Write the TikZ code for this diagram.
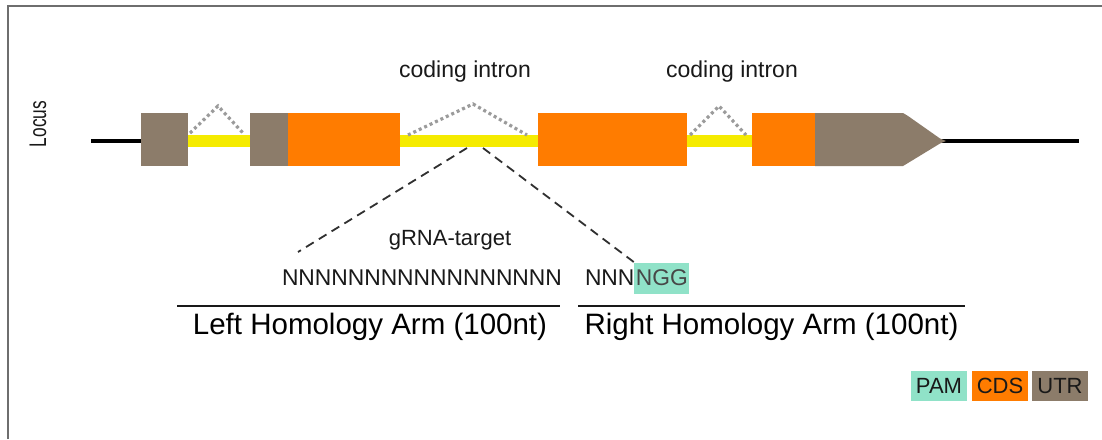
\documentclass[tikz,border=0pt]{standalone}
\usepackage{fontspec}
\setmainfont{Liberation Sans}
\definecolor{utr}{RGB}{140,124,106}
\definecolor{cds}{RGB}{255,124,0}
\definecolor{intr}{RGB}{245,235,0}
\definecolor{pam}{RGB}{144,226,200}
\definecolor{splice}{RGB}{155,155,155}
\definecolor{txt}{RGB}{25,25,25}
\definecolor{frame}{RGB}{110,110,110}
\begin{document}
\begin{tikzpicture}[x=1pt,y=-1pt,
  exon/.style={inner sep=0pt,outer sep=0pt,minimum height=53pt,anchor=west},
  intronbar/.style={fill=intr,inner sep=0pt,outer sep=0pt,minimum height=12pt,anchor=west},
  splicing/.style={draw=splice,line width=3.2pt,dash pattern=on 3pt off 3pt},
  guide/.style={draw=txt!90,line width=1.8pt,dash pattern=on 9pt off 6pt},
  label/.style={inner sep=0pt,outer sep=0pt,text=txt},
  legend/.style={inner sep=0pt,minimum width=56pt,minimum height=30pt,text=txt,font=\fontsize{22}{24}\selectfont},
  armline/.style={draw=txt,line width=1.6pt}]
\useasboundingbox (0,0) rectangle (1102,439);
\fill[white] (0,0) rectangle (1102,439);
% frame
\draw[frame,line width=2pt] (8,439) -- (8,6) -- (1102,6);
% locus label
\node[label,rotate=90] (locus) at (38,124) {\scalebox{0.72}[1]{\fontsize{24}{26}\selectfont Locus}};
% backbone
\coordinate (bbL) at (91,141);
\coordinate (bbR) at (1079,141);
\draw[line width=4pt,black] (bbL) -- (bbR);
% introns
\node[intronbar,minimum width=65pt] (i1) at (187,141) {};
\node[intronbar,minimum width=138pt] (i2) at (400,141) {};
\node[intronbar,minimum width=65pt] (i3) at (687,141) {};
% exons
\node[exon,fill=utr,minimum width=47pt] (u1) at (141,139.5) {};
\node[exon,fill=utr,minimum width=38pt] (u2) at (250,139.5) {};
\node[exon,fill=cds,minimum width=112pt] (c2) at (288,139.5) {};
\node[exon,fill=cds,minimum width=149pt] (c3) at (538,139.5) {};
\node[exon,fill=cds,minimum width=63pt] (c4) at (752,139.5) {};
\fill[utr] (815,113) -- (903,113) -- (908,116) -- (940,138.5) -- (946,141) -- (940,143.5) -- (908,163) -- (903,166) -- (815,166) -- cycle;
% splice lines
\coordinate (s1a) at (190,133); \coordinate (s1b) at (218,106); \coordinate (s1c) at (243,133);
\coordinate (s2a) at (408,135); \coordinate (s2b) at (473,104); \coordinate (s2c) at (527,135);
\coordinate (s3a) at (690,135); \coordinate (s3b) at (719,106); \coordinate (s3c) at (746,135);
\draw[splicing] (s1a) -- (s1b) -- (s1c);
\draw[splicing] (s2a) -- (s2b) -- (s2c);
\draw[splicing] (s3a) -- (s3b) -- (s3c);
% intron labels
\node[label,font=\fontsize{23}{26}\selectfont] (ci1) at (465,72) {coding intron};
\node[label,font=\fontsize{23}{26}\selectfont] (ci2) at (732,72) {coding intron};
% gRNA
\node[label,font=\fontsize{22}{25}\selectfont] (grna) at (450,240) {gRNA-target};
\node[label,font=\fontsize{22.8}{26}\selectfont,anchor=west] (nl) at (282,278) {NNNNNNNNNNNNNNNNN};
\node[label,font=\fontsize{22.8}{26}\selectfont,anchor=west] (nr) at (585,278) {NNN};
\node[inner xsep=1.5pt,inner ysep=0pt,outer sep=0pt,minimum height=31pt,fill=pam,text=txt!80,font=\fontsize{22.8}{26}\selectfont,anchor=west] (ngg) at (nr.east) {NGG};
% guides
\coordinate (g1) at (467,148);
\coordinate (g2) at (483,148);
\coordinate (g1e) at (298,252);
\draw[guide] (g1) -- (g1e);
\draw[guide] (g2) -- (ngg.north west);
% homology arms
\coordinate (la1) at (177,306); \coordinate (la2) at (560,306);
\coordinate (ra1) at (578,306); \coordinate (ra2) at (965,306);
\draw[armline] (la1) -- (la2);
\draw[armline] (ra1) -- (ra2);
\node[label,text=black,font=\fontsize{29.5}{33}\selectfont] (lal) at (370,327) {Left Homology Arm (100nt)};
\node[label,text=black,font=\fontsize{29.5}{33}\selectfont] (ral) at (771.5,327) {Right Homology Arm (100nt)};
% legend
\node[legend,fill=pam] (lpam) at (939,386) {PAM};
\node[legend,fill=cds] (lcds) at (1000,386) {CDS};
\node[legend,fill=utr] (lutr) at (1060,386) {UTR};
\end{tikzpicture}
\end{document}
